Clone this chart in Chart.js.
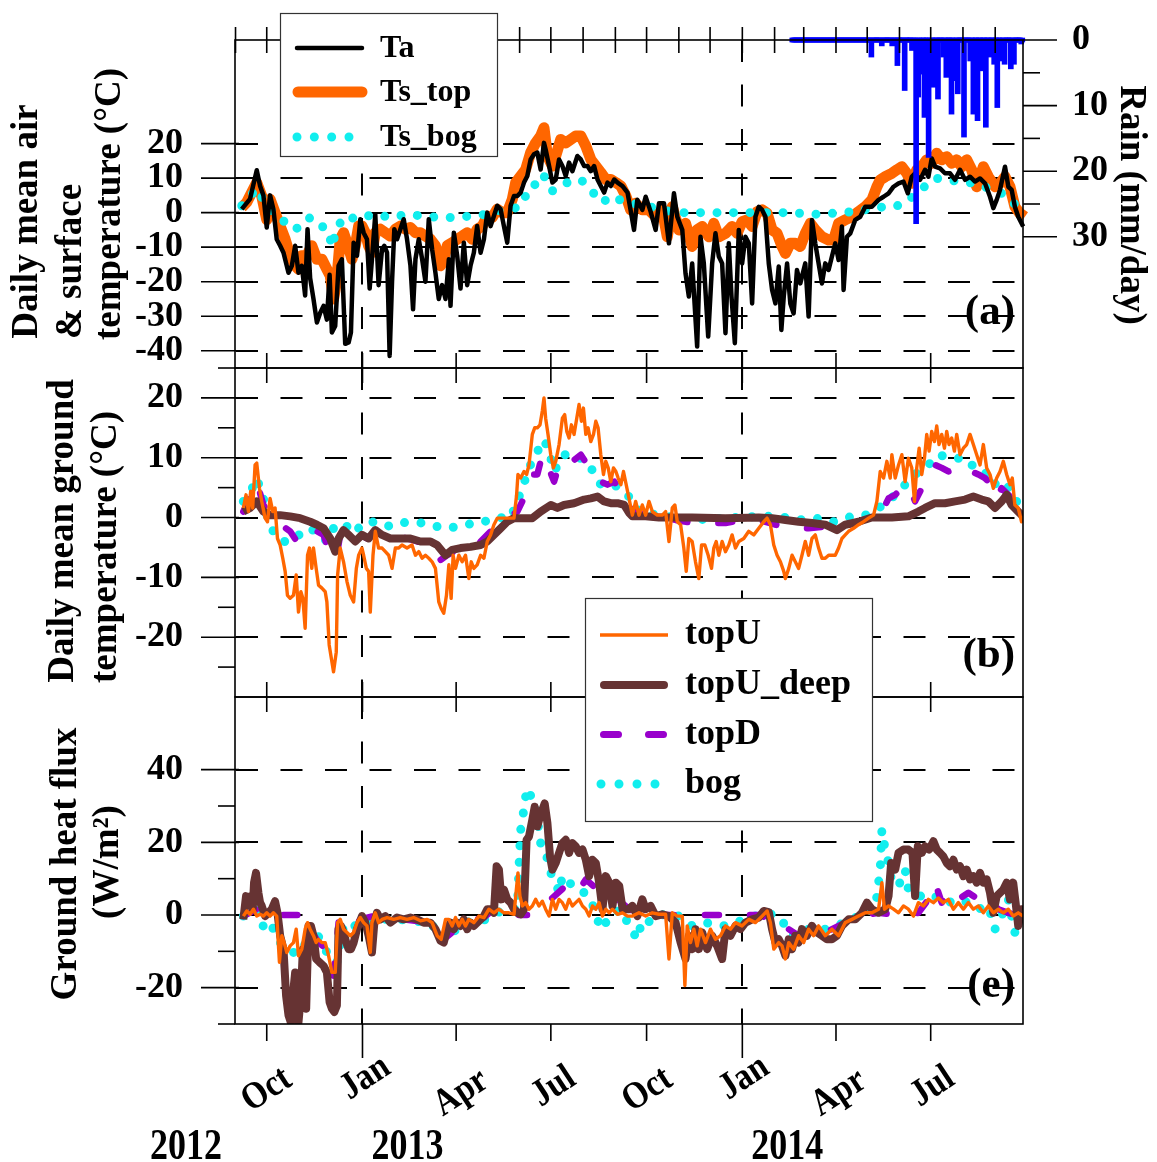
<!DOCTYPE html>
<html><head><meta charset="utf-8"><title>Temperatures and ground heat flux</title>
<script src="https://cdn.jsdelivr.net/npm/chart.js@4.4.1/dist/chart.umd.min.js"></script>
<style>
html,body{margin:0;padding:0;background:#fff;}
#wrap{position:relative;width:1157px;height:1162px;background:#fff;overflow:hidden;}
#wrap canvas{position:absolute;left:0;top:0;width:1157px;height:1162px;}
</style></head><body>
<div id="wrap"><canvas id="cA" width="1157" height="1162"></canvas><canvas id="cB" width="1157" height="1162"></canvas><canvas id="cE" width="1157" height="1162"></canvas></div>
<script>
// ---------- axis categories / ticks (x = days since 2012-01-01) ----------
const X_RANGE = [243.5, 1000.7];
const QUARTER_DATES = ['2012-10-01','2013-01-01','2013-04-01','2013-07-01','2013-10-01','2014-01-01','2014-04-01','2014-07-01'];
const QUARTER_LABELS = ['Oct','Jan','Apr','Jul','Oct','Jan','Apr','Jul'];
const YEAR_LABELS = ['2012','2013','2014'];
const YEAR_LINE_DATES = ['2013-01-01','2014-01-01'];
const TICKS_A = [20,10,0,-10,-20,-30,-40];
const TICKS_B = [20,10,0,-10,-20];
const TICKS_E = [40,20,0,-20];
const TICKS_RAIN = [0,10,20,30];

// ---------- panel (a): daily mean air & surface temperature ----------
const TA = [[250,1],[258,4],[264.4,12.3],[267.6,7.7],[270.8,5],[274,-4.3],[277.2,5],[280.4,1],[283.6,-7.7],[286.9,-9.6],[290.1,-11.6],[294.9,-17.4],[298.1,-15.4],[301.3,-9.6],[304.5,-17.4],[307.7,-15.4],[310.9,-24],[313.2,-4.8],[315.7,-19],[318.9,-25],[322.2,-31.8],[325.4,-29],[328.6,-27],[331.8,-31],[334.4,-18],[336.6,-34.7],[339.8,-32.8],[343,-15.4],[346.2,-13.5],[349.4,-38],[352.7,-37.6],[354.9,-34.7],[357.5,-8.7],[360.7,-12.5],[363.9,-1.9],[367.1,-5.8],[370.3,-7.7],[372.9,-22],[375.1,-13.5],[378.3,-0.5],[381.5,-21],[384.8,-10.6],[387,-9.6],[389.6,-11.6],[392.1,-41.5],[394.4,-20],[396.6,-4.8],[399.2,-7.7],[402.4,-4.8],[405.6,-1.9],[408.8,-7.7],[412.1,-15.4],[414.6,-28],[416.9,-13.5],[420.1,-7.7],[423.3,-13.5],[426.5,-20],[429.7,-1.9],[432.9,-10.6],[436.1,-17.4],[439.3,-25],[442.5,-21],[445.8,-25],[449,-13.5],[450.6,-27],[453.8,-5.8],[457,-12.5],[460.2,-22],[463.4,-8.7],[466.6,-21],[469.8,-15.4],[473,-11.6],[476.2,-3.9],[479.5,-11.6],[482.7,-7.7],[485.9,0],[489.1,-3.9],[492.3,-1],[495.5,2],[498.7,1],[501.9,-3.9],[505.1,-8.7],[508.3,2],[511.6,4.8],[514.8,4.8],[518,5.8],[521.2,8.7],[524.4,10.6],[527.6,15.4],[530.8,16.9],[534,17.4],[537.2,12.5],[540.4,20.2],[542,18.3],[545.3,13.5],[548.5,8.7],[551.7,9.6],[554.9,15.4],[558.1,13.5],[561.3,10.6],[564.5,14.5],[567.7,12],[572.5,16.4],[575.8,15.4],[579,13.5],[582.2,13.5],[585.4,12],[588.6,13.5],[591.8,9.6],[595,7.7],[598.2,5.8],[601.4,8.7],[604.6,7.7],[607.9,9.6],[611.1,8.7],[615.9,7.7],[620.7,5.8],[626.9,-5],[630.1,3.7],[634.9,0.8],[638.1,4.6],[642.9,0.3],[647.7,-5],[650.9,2.7],[655.7,2.7],[660.5,-8.9],[665.3,5.6],[668.5,-1.2],[673.3,-5],[676.4,-17.6],[679.6,-24.3],[682.8,-14.7],[687.6,-38.8],[690.8,-7],[694,-14.7],[698.2,-35.9],[702,-14.7],[705.2,-6],[708.4,-12.7],[711.6,-14.7],[714.8,-34.9],[718,-8.9],[720.6,-24.3],[723.8,-37.8],[727.6,-5],[730.8,-14.7],[734,-7],[737.2,-8.9],[740.4,-26.3],[743.6,-1.2],[746.8,1.7],[750,0.8],[753.2,-1.2],[756.4,-14.7],[759.6,-22.4],[762.8,-26.3],[766,-15.6],[768.5,-34],[770.8,-24.3],[774,-14.7],[777.1,-26.3],[780.3,-29.2],[783.5,-16.6],[786.7,-20.5],[791.5,-14.7],[794.7,-30.1],[797.9,-2.1],[801.1,-8.9],[804.3,-14.7],[807.5,-20.5],[810.7,-14.7],[813.9,-16.6],[817.1,-12.7],[820.3,-8.9],[823.5,-13.7],[826.7,-4],[828.3,-22.4],[831.5,-7],[834.7,-6],[839.5,-2.1],[844.3,-1.2],[849.1,1.7],[855.5,1.7],[861.9,3.7],[866.7,4.6],[871.5,5.6],[876.3,7.5],[881.1,8.5],[885.8,9],[890,5.6],[893.8,10.4],[897,11.4],[901.8,9.5],[906.6,12.4],[909.8,10.4],[913,15.7],[916.2,13.3],[921,12.8],[925.7,11.4],[930.6,11.4],[935.4,9.5],[940.2,12.4],[945,9.5],[949.8,10.4],[954.6,9],[959.4,9.9],[964.2,8.5],[969,4.6],[972.2,1.3],[975.4,3.7],[978.6,6.6],[983.4,13.3],[986.6,7.5],[989.8,6.6],[992.9,1.7],[996.1,-1.2],[1000.9,-4]];
const TS_TOP = [[250,1.5],[254.8,3],[264.4,8.7],[269.2,4.8],[274,-2],[277.2,3.9],[282,0],[286.9,-3.9],[291.7,-7.7],[296.5,-12.5],[301.3,-15.4],[304.5,-16.4],[307.7,-12.5],[312.5,-12.5],[317.3,-9.6],[322.2,-13.5],[327,-13.5],[331.8,-16.4],[335,-18.3],[338.2,-25],[341.4,-19.3],[344.6,-7.7],[347.8,-5.8],[351.1,-8.7],[355.9,-13.5],[359.1,-9.6],[362.3,-3.9],[365.5,-3.9],[368.7,-5.8],[371.9,-9.6],[375.1,-11.6],[378.3,-5.8],[383.2,-4.8],[388,-5.8],[392.8,-6.8],[397.6,-4.8],[402.4,-3.9],[407.2,-4.8],[412.1,-4.3],[416.9,-5.8],[421.7,-5.8],[426.5,-6.8],[431.3,-7.7],[436.1,-9.6],[441,-15.4],[444.1,-13.5],[447.4,-9.6],[452.2,-8.7],[457,-7.7],[461.8,-6.8],[466.6,-5.8],[471.4,-7.7],[476.2,-4.8],[481.1,-3.9],[485.9,-1],[490.7,-1.4],[495.5,1],[500.3,0],[505.1,0],[510,3.9],[513.2,8.7],[518,10.6],[522.8,12.5],[527.6,17.4],[532.4,20.2],[537.2,22.2],[540.4,24.6],[543.7,16.4],[548.5,13.5],[551.7,16.4],[556.5,21.2],[561.3,20.2],[566.1,21.2],[570.9,22.2],[575.8,22.2],[580.6,19.3],[585.4,15.4],[590.2,13.5],[595,11.6],[599.8,9.6],[604.6,9.6],[609.5,8.7],[614.3,7.7],[619.1,4.8],[623.7,0.8],[628.5,2.7],[634.9,0.8],[641.2,0.8],[647.7,-1.2],[654.1,0.8],[658.9,-7],[663.7,1.7],[670.1,-5],[676.4,-3.1],[682.8,-9.8],[687.6,-5],[692.4,-4],[698.8,-7],[703.6,-3.1],[708.4,-7],[714.8,-6],[721.2,-4],[726,-6],[730.8,-2.6],[735.6,-2.1],[740.4,-4],[745.2,0.3],[750,0.8],[754.8,-0.2],[759.6,-5],[764.4,-6],[769.2,-9.8],[772.4,-11.8],[777.1,-8.9],[781.9,-8.9],[786.7,-9.8],[791.5,-6],[796.3,-3.1],[801.1,-5],[807.5,-7],[813.9,-7.9],[818.7,-7.9],[823.5,-3.1],[829.9,-2.1],[836.3,-1.2],[842.7,0.3],[849.1,1.7],[855.5,3.7],[860.3,7.5],[863.5,9.5],[868.3,10.4],[874.7,11.4],[879.5,12.4],[884.3,13.3],[889,11.4],[893.8,8.5],[898.6,12.4],[903.4,13.3],[908.2,15.3],[913,14.3],[917.8,17.2],[922.6,15.3],[927.4,16.2],[932.2,14.3],[937,15.3],[941.8,13.3],[946.6,15.3],[951.4,12.4],[956.2,7.5],[962.6,13.3],[967.4,10.4],[973.8,7.5],[978.6,8.5],[983.4,10.4],[988.2,7.5],[992.9,1.7],[997.7,-0.2],[1002.5,-1.2]];
const TS_BOG = [[250,2],[264.4,7],[274,2],[282,-0.5],[290.1,-2.4],[298.1,-4.8],[306.1,-4.3],[315.7,-1.4],[322.2,-2.9],[333.4,-5.3],[336.6,-10],[341.4,-4.3],[349.4,-1],[360.7,-1.9],[370.3,-1],[378.3,-0.5],[392.8,-1.4],[408.8,-0.5],[424.9,-1],[439.3,-1.4],[453.8,-1.4],[469.8,-1],[484.3,-0.5],[501.9,1],[516.4,1.5],[529.2,8.2],[537.2,7.9],[540.4,10.6],[548.5,6.3],[562.9,8.7],[575.8,9.6],[596.6,2.9],[604.6,4.8],[619,3],[638,2],[657,0.5],[675,0],[707,0],[740,0],[774,0],[806,-0.5],[838,0.3],[867,1.7],[874.7,1.5],[887,2.7],[900,6],[916,10],[939,9],[955,8.5],[980,5.6],[1001,0.5]];
const RAIN_PERIOD = [779, 1000];
const RAIN = [[855,2.6],[865,0.9],[875,0.9],[880,3.9],[887,7.7],[894,1.6],[898,28],[900,8.7],[903,5.2],[906,11.8],[910,17.9],[912,1.6],[915,7.2],[919,9],[924,2.6],[927,5.7],[932,11.3],[935,6.2],[938,8.2],[944,14.8],[950,3.2],[953,11.3],[957,12.3],[961,4.7],[965,13.3],[969,2.6],[973,3.7],[976,10.3],[980,3.2],[983,3.7],[989,4.4],[992,3.7],[999,0.6]];

// ---------- panel (b): daily mean ground temperature ----------
const TOPU_T = [[251.5,1.6],[254.1,3.8],[256.4,1],[258.6,4.4],[260.5,1.6],[262.8,8.8],[264.4,9.1],[267,4.9],[269.2,2.7],[272.4,-0.1],[274.7,-0.7],[277.2,3.2],[279.8,1],[282,1.6],[284.3,-3.5],[286.9,-4.6],[289.4,-6.8],[291.7,-9],[293.9,-13],[296.5,-13.5],[299.7,-13],[302.3,-9.6],[304.5,-15.8],[306.8,-12.4],[308.7,-13.5],[310.9,-18.5],[313.2,-6.3],[315.1,-5.1],[317.3,-8.5],[318.9,-5.1],[321.5,-8.5],[323.8,-11.3],[327,-11.8],[330.2,-12.4],[331.8,-14.1],[334,-21.3],[336.6,-24.1],[338.2,-25.8],[340.8,-22.5],[342.1,-9.6],[344.6,-5.1],[347.8,-7.4],[351.1,-10.7],[354.3,-13],[357.5,-14.1],[360.1,-8.5],[362.3,-6.3],[365.5,-5.1],[367.1,-6.3],[369.7,-8.5],[371.9,-9],[373.5,-15.8],[376.1,-6.3],[378.3,-2.3],[381.5,-5.1],[384.8,-5.1],[388,-5.7],[391.2,-6.3],[394.4,-8.5],[397.6,-5.1],[400.8,-5.1],[404,-4.6],[408.8,-5.1],[413.6,-4.6],[416.9,-6.3],[420.1,-5.7],[423.3,-6.8],[426.5,-6.3],[429.7,-6.8],[432.9,-7.4],[436.1,-8.5],[439.3,-14.1],[441.6,-15.2],[444.1,-16],[446.7,-13],[449,-7.9],[451.2,-13.5],[453.1,-6.3],[455.4,-8.5],[458.6,-6.3],[461.8,-7.4],[465,-6.3],[468.2,-10.2],[470.5,-7.4],[473,-8.5],[476.2,-7.9],[479.5,-6.3],[482.7,-6.8],[485.9,-4],[489.1,-2.9],[492.3,-1.2],[495.5,-0.1],[505.1,-0.1],[511.6,-0.1],[514.1,3.8],[515.4,7.2],[518,6.6],[521.2,7.7],[523.7,7.2],[526,8.8],[529.2,13.9],[531.5,15],[534,15],[536.6,15.5],[538.8,17.8],[540.4,20],[542,16.6],[544.3,13.9],[546.9,10.5],[549.4,8.3],[551.7,9.4],[554.9,12.2],[558.1,16.6],[560.3,17.2],[562.3,14.4],[564.5,13.3],[566.8,15.5],[569.3,13.9],[571.9,16.6],[574.1,18.9],[576.4,16.1],[578.3,18.3],[580.6,13.9],[582.8,15],[585.4,12.7],[588,13.9],[590.2,16.1],[592.4,15],[595,10.5],[597.6,7.2],[599.8,9.4],[602.1,8.3],[604.6,6],[607.2,8.3],[609.5,7.7],[611.7,6.6],[614.3,5.5],[616.8,7.7],[622.1,3.2],[625.3,0.4],[628.5,2.7],[631.7,0.4],[634.9,2.1],[638.1,0.4],[641.3,2.7],[644.5,1],[649.3,0.4],[654.1,0.4],[657.3,1],[660.5,-4],[663.7,1.6],[666.2,2.1],[668.5,-0.7],[671.7,-1.2],[674.8,-5.1],[677.1,-9],[679.6,-3.5],[682.8,-4],[686,-7.4],[689.2,-10.2],[691.8,-4.6],[695,-4.6],[698.2,-6.3],[701.4,-8.5],[703.6,-5.1],[705.9,-4],[708.4,-6.3],[711.6,-4],[714.8,-5.7],[718,-4.6],[721.2,-2.9],[724.4,-5.1],[727.6,-4],[732.4,-3.5],[737.2,-2.3],[742,-2.9],[746.8,-1.8],[751.6,-0.7],[754.8,-0.1],[758,-1.2],[761.2,-4.6],[764.4,-6.3],[767.6,-7.4],[770.8,-9],[772.4,-10.2],[775.6,-8.5],[778.8,-6.3],[781.9,-7.4],[785.1,-8.5],[788.3,-6.3],[791.5,-4],[794.7,-6.3],[797.9,-3.5],[801.1,-2.9],[804.3,-5.1],[807.5,-6.8],[810.7,-6.8],[813.9,-6.3],[817.1,-6.3],[820.3,-6.3],[823.5,-5.1],[826.7,-3.5],[829.9,-2.9],[833.1,-2.3],[837.9,-1.8],[842.7,-1.2],[847.5,-0.7],[852.3,-0.1],[857.1,0.4],[860.3,2.7],[863.5,7.7],[866.7,6.6],[869.9,9.4],[873.1,6.6],[874.7,10.5],[877.9,6.6],[881.1,8.8],[884.3,10.5],[887.4,6],[890.6,9.9],[893.8,8.3],[896.4,2.7],[898.6,8.3],[900.9,11.6],[903.4,7.2],[906,9.9],[908.2,13.9],[910.5,11.1],[913,14.4],[915.6,12.7],[917.8,15.3],[920,12.2],[922.6,13.9],[925.2,11.6],[927.4,14.4],[929.6,12.2],[932.2,13.3],[934.8,11.1],[937,13.9],[940.2,10.5],[943.4,11.6],[946.6,12.2],[949.8,13.9],[953,12.2],[956.2,10.5],[959.4,8.8],[962.6,12.2],[965.8,8.3],[969,7.2],[972.2,4.9],[975.4,6.6],[978.6,7.7],[981.8,9.4],[985,7.2],[988.2,5.5],[990.4,6.6],[992.9,2.1],[996.1,1.6],[999.3,-0.7],[1002.5,0.4]];
const DEEP_T = [[251.5,1],[258,1.6],[264.4,2.7],[270.8,1],[277.2,0.4],[286.9,0.4],[296.5,0.2],[306.1,-0.1],[315.7,-0.7],[322.2,-1.2],[328.6,-1.8],[335,-3.5],[339.8,-5.7],[343,-3.5],[347.8,-2.1],[352.7,-2.9],[359.1,-4],[365.5,-2.9],[371.9,-3.5],[378.3,-2.1],[384.8,-2.9],[392.8,-3.5],[402.4,-3.5],[412.1,-3.5],[421.7,-4],[431.3,-4],[437.7,-4.6],[445.8,-6.3],[452.2,-5.4],[460.2,-5.1],[469.8,-4.9],[479.5,-4.6],[485.9,-4],[492.3,-2.9],[498.7,-1.8],[505.1,-0.7],[511.6,-0.1],[521.2,-0.1],[529.2,-0.1],[537.2,1],[546.9,2.1],[553.3,1.6],[559.7,2.1],[569.3,2.4],[579,3],[585.4,3.2],[591.8,3.5],[598.2,2.7],[604.6,2.4],[611.1,2.4],[617.5,2.1],[622.1,0.8],[625.3,0.2],[638.1,0.2],[650.9,0],[682.8,0],[714.8,-0.1],[746.8,0],[759.6,-0.1],[772.4,-0.4],[785.1,-0.7],[797.9,-0.9],[810.7,-1.2],[821.9,-2.1],[829.9,-1.2],[842.7,-0.7],[855.5,0],[874.7,0],[890.6,0.2],[900.2,1],[906.6,1.6],[916.2,2.4],[925.7,2.4],[935.4,2.7],[945,3],[953,3.5],[961,3],[967.4,2.7],[973.8,1.6],[980.2,2.7],[985,3.8],[989.8,2.1],[996.1,1],[1002.5,-0.1]];
const TOPD_T = [[251.5,1],[258,3.2],[264.4,6],[270.8,2.1],[277.2,0.4],[283.6,-0.7],[290.1,-1.5],[296.5,-2.3],[302.9,-4],[309.3,-3.5],[315.7,-1.8],[322.2,-2.3],[328.6,-2.9],[335,-6.3],[340.8,-6.8],[344.6,-2.9],[351.1,-2.3],[357.5,-4],[363.9,-2.9],[370.3,-3.5],[379.9,-2.6],[389.6,-3.2],[399.2,-3.2],[408.8,-3.5],[418.5,-4],[431.3,-4.6],[441,-7.1],[447.4,-6.3],[457,-5.4],[466.6,-5.4],[476.2,-4.6],[485.9,-2.9],[495.5,-1.2],[505.1,-0.1],[514.8,1],[519.6,2.7],[524.4,5.5],[529.2,7.2],[534,7.2],[538.8,10.5],[543.7,8.8],[550.1,6],[554.9,8.8],[561.3,9.9],[567.7,9.4],[575.8,10.5],[582.2,8.8],[588.6,8.3],[595,6],[601.4,5.5],[607.9,6],[614.3,4.4],[618.9,3.8],[625.3,1],[638.1,0.4],[650.9,0.2],[666.9,-0.4],[682.8,-0.9],[698.8,-0.9],[714.8,-0.9],[730.8,-0.4],[746.8,-0.4],[762.8,-1.2],[778.8,-1.8],[794.7,-1.8],[810.7,-1.5],[821.9,-2.3],[833.1,-1.2],[842.7,-0.7],[855.5,0.2],[865.1,1],[871.5,3.2],[877.9,3.8],[884.3,4.9],[890.6,5.5],[897,2.7],[903.4,4.9],[909.8,7.2],[916.2,8.8],[922.6,8.3],[929,7.7],[938.6,8.3],[945,7.2],[951.4,7.7],[957.8,7.2],[964.2,6.6],[970.6,5.5],[975.4,3.2],[980.2,4.9],[986.6,3.8],[992.9,2.7],[999.3,0.4],[1002.5,-0.4]];
const BOG_T = [[251.5,2.7],[258,4.1],[264.4,6.6],[270.8,3.2],[275.6,-0.7],[282,-2.9],[290.1,-4],[296.5,-4],[302.9,-3.2],[312.5,-1.8],[322.2,-2.3],[331.8,-4],[338.2,-1.8],[347.8,-0.9],[357.5,-2.6],[367.1,-0.9],[379.9,-0.7],[392.8,-1.5],[407.2,-0.8],[423.3,-0.9],[437.7,-1.5],[449,-1.8],[463.4,-1.2],[479.5,-0.9],[493.9,0],[508.3,-0.1],[519.6,4.9],[526,8.3],[532.4,10.5],[540.4,13],[545.3,11.1],[550.1,7.7],[559.7,10.5],[570.9,10.5],[583.8,8.8],[595,5.5],[607.9,5.5],[620.7,3.8],[631.7,1],[650.9,0.4],[682.8,-0.4],[714.8,-0.1],[746.8,0.2],[766,0.2],[785.1,-0.4],[801.1,-0.1],[818.7,-0.7],[836.3,0.2],[849.1,0.4],[861.9,1.6],[871.5,2.7],[881.1,4.4],[893.8,6.6],[900.2,7.7],[909.8,8.8],[919.4,10.5],[932.2,9.9],[945,9.9],[954.6,8.3],[964.2,7.7],[970.6,5.5],[983.4,6],[994.5,2.7],[1002.5,-0.1]];

// ---------- panel (e): ground heat flux ----------
const TOPU_G = [[251.5,-0.3],[254.8,1.1],[258,0.2],[261.2,1.6],[264.4,-0.3],[267.6,0.2],[270.8,-0.3],[274,0.6],[277.2,-0.3],[280.4,0.6],[283.6,-0.3],[286.2,-13],[288.5,-5.7],[290.7,-7.6],[293.3,-10.3],[296.5,-8.5],[299.7,-7.6],[302.3,-3.9],[304.5,-11.2],[307.7,-9.4],[310.9,-3.9],[313.2,-2.1],[315.7,-3.9],[318.9,-5.7],[321.5,-7.6],[323.8,-6.7],[327,-7.6],[330.2,-7.6],[333.4,-11.2],[336.6,-15.8],[339.8,-15.8],[342.1,-2.1],[344.6,-1.2],[347.8,-3.9],[351.1,-4.8],[354.3,-5.7],[357.5,-4.8],[360.7,-2.1],[363.9,-0.7],[367.1,-2.1],[370.3,-3],[373.5,-10.3],[375.1,-2.1],[378.3,0.6],[381.5,-2.1],[384.8,-1.2],[389.6,-0.7],[396,-1.2],[402.4,-0.7],[408.8,-1.2],[415.2,-0.7],[421.7,-1.6],[428.1,-1.2],[432.9,-2.1],[437.7,-5.7],[441.6,-6.7],[445.8,-1.2],[449,-1.2],[452.2,-3],[455.4,-0.7],[458.6,-3],[461.8,-1.2],[465,-3],[468.2,-1.2],[473,-2.1],[477.9,-0.3],[482.7,-0.7],[487.5,1.6],[492.3,0.6],[497.1,1.6],[501.9,0.6],[506.7,0.6],[511.6,0.2],[515.4,11.6],[517.3,5.2],[519.6,2.5],[522.8,3.4],[526,1.6],[529.2,2.5],[532.4,4.3],[535.6,2.5],[538.8,3.8],[542,1.6],[545.3,-0.3],[548.5,4.3],[551.7,1.6],[554.9,4.3],[558.1,3.4],[561.3,1.6],[564.5,4.3],[567.7,2.5],[570.9,3.4],[574.1,4.3],[577.4,2.5],[580.6,1.6],[583.8,-0.3],[587,2.5],[590.2,1.6],[593.4,3.4],[596.6,-0.3],[599.8,1.6],[603,0.6],[606.2,1.6],[611.1,0.2],[615.9,0.6],[620.7,-0.3],[625.3,-0.3],[631.7,0.6],[638.1,-0.3],[644.5,0.6],[650.9,0.2],[657.3,0.2],[660.5,-12.1],[663.7,0.6],[668.5,-0.3],[673.3,-0.3],[675.8,-19.4],[678,-3],[681.2,-7.6],[684.4,-3.9],[687.6,-8.5],[690.8,-3.9],[695.6,-7.6],[700.4,-3.9],[705.2,-6.7],[710,-5.7],[714.8,-3],[719.6,-3.9],[724.4,-2.1],[730.8,-3],[737.2,-1.2],[743.6,-2.1],[750,-0.3],[754.8,1.1],[758,-2.1],[761.2,-9.4],[766,-7.6],[769.2,-8.5],[772.4,-12.1],[775.6,-7.6],[780.3,-9.4],[785.1,-5.7],[789.9,-7.6],[794.7,-3.9],[799.5,-5.7],[804.3,-3],[810.7,-5.7],[817.1,-3.9],[823.5,-5.7],[829.9,-2.1],[836.3,-1.2],[842.7,-0.3],[849.1,0.6],[855.5,0.6],[861.9,1.6],[865.1,8.9],[867.6,1.6],[871.5,2.5],[876.3,1.6],[881.1,0.6],[885.8,2.5],[890.6,1.6],[895.4,-0.3],[900.2,3.4],[905,2.5],[909.8,4.3],[914.6,3.4],[919.4,4.7],[924.2,3.4],[929,4.3],[933.8,1.6],[938.6,3.4],[943.4,1.6],[948.2,3.4],[953,1.6],[957.8,2.5],[962.6,0.6],[967.4,2.5],[972.2,0.6],[977,1.6],[981.8,0.6],[986.6,1.6],[991.3,-0.3],[996.1,0.6],[1000.9,-0.3],[1002.5,-4.8]];
const DEEP_G = [[251.5,-1.2],[254.1,5.2],[256.4,4.3],[258.6,5.2],[260.5,1.6],[261.8,8.9],[263.7,11.6],[266,6.1],[267.6,3.4],[269.2,2.5],[272.4,-0.3],[275.6,0.6],[278.8,1.6],[282,3.8],[284.3,0.6],[286.9,-5.7],[290.1,-9.4],[292.6,-22.2],[294.9,-27.6],[297.1,-29.5],[299.1,-22.2],[301.3,-15.8],[302.9,-22.2],[304.5,-29.5],[306.8,-22.2],[308.7,-9.4],[310,-19.4],[311.9,-25.8],[314.1,-3],[316.4,-3],[318.9,-5.7],[321.5,-12.1],[324.7,-13],[328.6,-14],[331.8,-15.8],[334.4,-24],[336.6,-25.8],[338.9,-26.7],[341.4,-24.9],[343,-3.9],[345.3,-3],[347.8,-4.8],[350.4,-7.6],[352.7,-9.4],[354.9,-9.4],[357.5,-7.6],[360.7,-3.9],[363.3,-2.1],[365.5,-0.3],[368.7,-2.1],[371.9,-5.7],[375.1,-10.3],[377.4,-2.1],[379.9,0.6],[383.2,-1.2],[388,-0.3],[392.8,-2.1],[399.2,-0.7],[405.6,-1.2],[412.1,-0.7],[418.5,-1.2],[424.9,-2.1],[431.3,-2.1],[436.1,-3.9],[441,-7.1],[444.1,-7.6],[447.4,-3.9],[450.6,-2.1],[453.8,-3.9],[457,-2.1],[460.2,-3],[463.4,-1.2],[466.6,-3.9],[469.8,-2.1],[473,-3],[476.2,-2.1],[479.5,-1.2],[482.7,-0.3],[485.9,1.6],[489.1,1.6],[492.3,0.6],[494.9,13.4],[497.1,12.5],[499.4,4.3],[501.9,7],[505.1,4.3],[508.3,3.4],[511.6,1.6],[514.8,0.6],[518,0.2],[521.2,1.6],[523.7,20.7],[526,21.6],[529.2,26.2],[531.5,29.8],[534,24.4],[536.6,27.1],[538.8,28.9],[541.1,30.7],[543.7,25.3],[546.2,16.1],[548.5,12.5],[551.7,14.3],[554.9,17.1],[558.1,19.8],[561.3,20.7],[564.5,17.1],[567.7,19.8],[570.9,18.9],[574.1,17.1],[577.4,18],[580.6,15.2],[583.8,10.7],[587,15.2],[590.2,14.3],[593.4,8.9],[596.6,1.6],[599.8,10.7],[603,8.9],[606.2,2.5],[609.5,8.9],[612.7,8],[615.9,1.6],[622.1,1.6],[625.3,2.5],[630.1,-0.3],[634.9,4.3],[638.1,1.6],[642.9,2.5],[647.7,-0.3],[654.1,0.2],[660.5,-0.3],[666.9,-2.1],[671.7,-7.6],[676.4,-12.1],[679.6,-5.7],[682.8,-9.4],[686,-3.9],[689.2,-9.4],[692.4,-4.8],[697.2,-9.4],[702,-5.7],[706.8,-8.5],[711.6,-12.1],[714.8,-3.9],[719.6,-5.7],[724.4,-3],[729.2,-3.9],[734,-2.1],[740.4,-1.2],[746.8,-0.7],[751.6,1.1],[756.4,0.8],[759.6,-3.9],[762.8,-7.6],[766,-6.7],[769.2,-8.5],[772.4,-11.2],[775.6,-6.7],[778.8,-9.4],[781.9,-5.7],[785.1,-7.6],[788.3,-3.9],[793.1,-5.7],[797.9,-3],[802.7,-4.8],[807.5,-5.7],[812.3,-6.7],[817.1,-6.7],[821.9,-5.7],[826.7,-3],[833.1,-1.2],[839.5,-1.2],[845.9,0.6],[850.7,3.4],[855.5,1.6],[861.9,0.6],[868.3,1.6],[871.5,5.2],[874,14.3],[877.9,12.5],[881.1,17.1],[885.8,18],[890.6,18],[894.5,17.1],[897,5.2],[899.6,18.9],[903.4,17.1],[906.6,18.9],[910.5,18],[914.6,20.3],[917.8,18],[921,17.1],[924.2,16.1],[927.4,14.3],[930.6,13.4],[933.8,15.2],[937,12.5],[940.2,13.4],[943.4,10.7],[946.6,12.5],[949.8,9.8],[953,10.7],[956.2,8.9],[959.4,11.6],[962.6,8.9],[965.8,9.8],[969,6.1],[972.2,0.6],[975.4,5.2],[978.6,6.1],[981.8,7],[985,8.9],[988.2,4.3],[991.3,8.9],[993.6,3.4],[996.1,-3],[999.3,1.6],[1002.5,0.2]];
const TOPD_G = [[251.5,-0.3],[264.4,1.6],[270.8,1.6],[274,0],[306.1,0],[309.3,-3.9],[315.7,-3.9],[323.8,-7.6],[331.8,-9.4],[338.2,-16.7],[343,-2.1],[351.1,-5.7],[363.9,-1.2],[376.7,-0.3],[399.2,-1],[431.3,-2.1],[444.1,-6.7],[463.4,-2.1],[482.7,-0.7],[495.5,2.5],[511.6,2.5],[516,0],[527.6,0],[535,1.6],[546.9,4.3],[562.9,8.4],[572.5,6.1],[580.6,9.8],[591.8,7],[607.9,5.2],[622.3,1.6],[631.7,0],[650.9,0],[682.8,0],[714.8,0],[746.8,0],[759.6,-1.2],[769.2,-1.2],[775.6,-3.9],[785.1,-5.7],[797.9,-4.8],[810.7,-4.8],[823.5,-3],[842.7,-0.3],[861.9,0.6],[874.7,0.2],[890.6,0],[900.2,0.6],[909.8,4.3],[916.2,8.9],[922.6,3.4],[930.6,7],[938.6,4.3],[948.2,6.1],[957.8,4.3],[965.8,5.2],[977,1.6],[986.6,0.6],[996.1,-0.3],[1002.5,-0.3]];
const BOG_G = [[251.5,-0.3],[264.4,1.6],[272.4,-4.4],[278.8,-3],[286.9,-7.6],[298.1,-10.3],[307.7,-10.3],[317.3,-3],[325.4,-6.7],[335,-12.1],[341.4,-13],[347.8,-3],[354.3,-3.9],[367.1,-1.2],[399.2,-1.2],[431.3,-2.1],[444.1,-7.1],[463.4,-2.1],[485.9,-1.2],[501.9,1.6],[514.8,1.6],[516.4,13.4],[518,23.4],[520.5,28],[522.8,32.6],[526,34.9],[529.2,30.7],[532.4,29.8],[537.2,19.8],[542,18],[545.3,12.5],[548.5,10.7],[551.7,8.9],[554.9,6.1],[558.1,10.7],[562.9,8.9],[572.5,8],[579,6.1],[585.4,4.3],[595,-3.9],[604.6,-0.3],[614.3,1.6],[622.3,-3],[630.1,-6.7],[634.9,-1.2],[644.5,-2.1],[657.3,0.6],[670.1,-0.3],[682.8,-3],[695.6,-2.1],[714.8,-3],[734,-1.2],[753.2,0.6],[766,-0.3],[778.8,-5.7],[791.5,-3.9],[810.7,-3.9],[829.9,-2.1],[849.1,0.6],[858.7,1.6],[863.5,12.5],[865.1,23.4],[868.3,18],[871.5,14.3],[874.7,8.9],[881.1,8],[887.4,12.5],[890.6,7],[897,5.2],[903.4,5.2],[909.8,4.3],[919.4,5.2],[929,3.4],[938.6,4.3],[948.2,3.4],[957.8,1.6],[967.4,2.5],[973.8,-3.9],[980.2,-0.3],[986.6,4.3],[992.9,-4.8],[999.3,-5.7]];

// ---------- styling ----------
const FONT = "'Liberation Serif', 'Times New Roman', Times, serif";
const C_ORANGE = '#FF6600', C_CYAN = '#11EEEE', C_BROWN = '#663333', C_PURPLE = '#9900CC', C_BLUE = '#0000FF';
Chart.defaults.font.family = FONT;

function dayNum(y, m, d) { return (Date.UTC(y, m - 1, d) - Date.UTC(2012, 0, 1)) / 86400000; }
function dayOf(s) { const p = s.split('-').map(Number); return dayNum(p[0], p[1], p[2]); }
const xy = arr => arr.map(p => ({x: p[0], y: p[1]}));
function seg(ctx, x1, y1, x2, y2) { ctx.beginPath(); ctx.moveTo(x1, y1); ctx.lineTo(x2, y2); ctx.stroke(); }
function rtext(ctx, txt, x, y, ang, font, align) {
  ctx.save(); ctx.translate(x, y); ctx.rotate(ang); ctx.font = font; ctx.fillStyle = '#000';
  ctx.textAlign = align || 'center'; ctx.textBaseline = 'middle'; ctx.fillText(txt, 0, 0); ctx.restore();
}
function sample(ctx, st, x1, x2, y) {
  ctx.save(); ctx.strokeStyle = st.color; ctx.lineWidth = st.width; ctx.lineCap = st.cap || 'butt';
  ctx.setLineDash(st.dash || []); seg(ctx, x1, y, x2, y); ctx.restore();
}
function legendBox(ctx, x, y, w, h) {
  ctx.save(); ctx.fillStyle = '#fff'; ctx.fillRect(x, y, w, h);
  ctx.strokeStyle = '#333'; ctx.lineWidth = 1.2; ctx.strokeRect(x + 0.5, y + 0.5, w, h); ctx.restore();
}

const xAxis = {type: 'linear', min: X_RANGE[0], max: X_RANGE[1], display: false, offset: false, grid: {offset: false}};
function yAxis(min, max, ticks) {
  return {
    type: 'linear', position: 'left', min, max,
    afterBuildTicks: s => { s.ticks = ticks.map(v => ({value: v})); },
    afterFit: s => { s.width = 235; s.paddingTop = 0; s.paddingBottom = 0; },
    grid: {display: true, drawOnChartArea: false, drawTicks: true, tickLength: 34, tickColor: 'rgba(0,0,0,0)'},
    border: {display: false},
    ticks: {autoSkip: false, padding: 18, color: '#000', font: {family: FONT, size: 36, weight: 'bold'}, callback: v => String(v)}
  };
}
function baseOptions(pad, scales) {
  return {
    responsive: false, maintainAspectRatio: false, animation: false, events: [],
    layout: {padding: pad},
    plugins: {legend: {display: false}, tooltip: {enabled: false}},
    elements: {point: {radius: 0, hoverRadius: 0}, line: {tension: 0, borderJoinStyle: 'round', fill: false}},
    scales
  };
}

function decor(o) {
  return {
    id: 'decor' + o.name,
    beforeDatasetsDraw(chart) {
      const {ctx, chartArea: a} = chart, xs = chart.scales.x, ys = chart.scales.y;
      ctx.save(); ctx.strokeStyle = '#000'; ctx.lineWidth = 2; ctx.setLineDash([22, 22.5]); ctx.lineCap = 'butt';
      o.grid.forEach(v => { const p = Math.round(ys.getPixelForValue(v)); seg(ctx, a.left + 1, p, a.right, p); });
      YEAR_LINE_DATES.forEach(s => { const p = Math.round(xs.getPixelForValue(dayOf(s))); seg(ctx, p, a.top, p, a.bottom); });
      ctx.restore();
    },
    afterDatasetsDraw(chart) {
      const {ctx, chartArea: a} = chart, xs = chart.scales.x, ys = chart.scales.y;
      ctx.save(); ctx.setLineDash([]); ctx.strokeStyle = '#000'; ctx.lineWidth = 1.6; ctx.lineCap = 'butt';
      ctx.strokeRect(a.left, a.top, a.right - a.left, a.bottom - a.top);
      o.major.forEach(v => { const p = ys.getPixelForValue(v); seg(ctx, a.left - 34, p, a.left + 4, p); });
      o.minor.forEach(v => { const p = ys.getPixelForValue(v); seg(ctx, a.left - 17, p, a.left, p); });
      QUARTER_DATES.forEach(s => {
        const p = xs.getPixelForValue(dayOf(s));
        if (o.tickTop) seg(ctx, p, a.top, p, a.top + 15);
        if (o.tickBottom) seg(ctx, p, a.bottom - 15, p, a.bottom);
      });
      if (o.extra) o.extra(chart, ctx, a, xs, ys);
      ctx.restore();
    },
    afterDraw(chart) {
      const ctx = chart.ctx, a = chart.chartArea;
      o.titles.forEach(t => rtext(ctx, t[0], t[1], t[2], -Math.PI / 2, 'bold 37px ' + FONT));
      rtext(ctx, o.label, a.right - 8, o.labelY, 0, 'bold 43px ' + FONT, 'right');
      if (o.after) o.after(chart, ctx, a);
    }
  };
}

// ---------- chart (a) ----------
const rainDaily = [];
for (let d = RAIN_PERIOD[0]; d <= RAIN_PERIOD[1]; d++) {
  const f = RAIN.find(p => p[0] === d);
  rainDaily.push({x: d, y: f ? f[1] : 0});
}
const scalesA = {x: xAxis, y: yAxis(-45, 50, TICKS_A),
  yr: {type: 'linear', position: 'right', reverse: true, min: 0, max: 50,
    afterBuildTicks: s => { s.ticks = TICKS_RAIN.map(v => ({value: v})); },
    afterFit: s => { s.width = 134; s.paddingTop = 0; s.paddingBottom = 0; },
    grid: {display: true, drawOnChartArea: false, drawTicks: true, tickLength: 34, tickColor: 'rgba(0,0,0,0)'},
    border: {display: false},
    ticks: {autoSkip: false, padding: 15, color: '#000', font: {family: FONT, size: 36, weight: 'bold'}, callback: v => String(v)}}};
const styleTa = {color: '#000', width: 4.5}, styleTop = {color: C_ORANGE, width: 11}, styleBogA = {color: C_CYAN, width: 9, dash: [0, 16.5], cap: 'round'};
new Chart(document.getElementById('cA'), {
  type: 'line',
  data: {datasets: [
    {label: 'Ts_top', data: xy(TS_TOP), borderColor: styleTop.color, borderWidth: styleTop.width, order: 3, yAxisID: 'y', clip: 6},
    {label: 'Ts_bog', data: xy(TS_BOG), borderColor: styleBogA.color, borderWidth: styleBogA.width, borderDash: styleBogA.dash, borderCapStyle: 'round', order: 2, yAxisID: 'y'},
    {label: 'Ta', data: xy(TA), borderColor: styleTa.color, borderWidth: styleTa.width, order: 1, yAxisID: 'y', clip: 4},
    {type: 'bar', label: 'Rain', data: rainDaily, backgroundColor: C_BLUE, borderWidth: 0, barThickness: 5, minBarLength: 4, yAxisID: 'yr', order: 0, clip: 6}
  ]},
  options: baseOptions({top: 40, bottom: 1162 - 368, left: 0, right: 0}, scalesA),
  plugins: [decor({name: 'a', grid: TICKS_A, major: TICKS_A, minor: [], tickTop: false, tickBottom: true,
    titles: [['Daily mean air', 27, 221.5], ['& surface', 71, 261.5], ['temperature (°C)', 110, 204]],
    label: '(a)', labelY: 313,
    extra: (chart, ctx, a, xs) => {
      const yr = chart.scales.yr;
      TICKS_RAIN.forEach(v => { const p = yr.getPixelForValue(v); seg(ctx, a.right, p, a.right + 34, p); });
      [5, 15, 25].forEach(v => { const p = yr.getPixelForValue(v); seg(ctx, a.right, p, a.right + 17, p); });
      for (let y = 2012; y <= 2014; y++) for (let m = 1; m <= 12; m++) {
        const d = dayNum(y, m, 1);
        if (d < X_RANGE[0] - 1 || d > X_RANGE[1]) continue;
        const p = xs.getPixelForValue(Math.max(d, X_RANGE[0]));
        seg(ctx, p, a.top - 13, p, a.top + 13);
      }
    },
    after: (chart, ctx) => {
      rtext(ctx, 'Rain (mm/day)', 1131, 205, Math.PI / 2, 'bold 37px ' + FONT);
      legendBox(ctx, 280, 13, 217, 143);
      sample(ctx, {color: '#000', width: 4.5, cap: 'round'}, 297, 362, 48);
      sample(ctx, {color: C_ORANGE, width: 11, cap: 'round'}, 298, 362, 92);
      sample(ctx, {color: C_CYAN, width: 9, cap: 'round', dash: [0, 17.33]}, 297, 350, 137);
      const f = 'bold 32px ' + FONT;
      rtext(ctx, 'Ta', 380, 49, 0, f, 'left');
      rtext(ctx, 'Ts_top', 380, 92.5, 0, f, 'left');
      rtext(ctx, 'Ts_bog', 380, 137.5, 0, f, 'left');
    }
  })]
});

// ---------- chart (b) ----------
const styleTopU = {color: C_ORANGE, width: 3.4}, styleDeep = {color: C_BROWN, width: 8}, styleTopD = {color: C_PURPLE, width: 6.5, dash: [14, 31], cap: 'round'}, styleBog = {color: C_CYAN, width: 9, dash: [0, 16.5], cap: 'round'};
function groundSets(topU, deep, topD, bog) {
  return [
    {label: 'bog', data: xy(bog), borderColor: styleBog.color, borderWidth: styleBog.width, borderDash: styleBog.dash, borderCapStyle: 'round', order: 3},
    {label: 'topD', data: xy(topD), borderColor: styleTopD.color, borderWidth: styleTopD.width, borderDash: styleTopD.dash, borderCapStyle: 'round', order: 2},
    {label: 'topU_deep', data: xy(deep), borderColor: styleDeep.color, borderWidth: styleDeep.width, order: 1},
    {label: 'topU', data: xy(topU), borderColor: styleTopU.color, borderWidth: styleTopU.width, order: 0}
  ];
}
new Chart(document.getElementById('cB'), {
  type: 'line',
  data: {datasets: groundSets(TOPU_T, DEEP_T, TOPD_T, BOG_T)},
  options: baseOptions({top: 368, bottom: 1162 - 697, left: 0, right: 134}, {x: xAxis, y: yAxis(-30, 25, TICKS_B)}),
  plugins: [decor({name: 'b', grid: TICKS_B, major: TICKS_B, minor: [25, 15, 5, -5, -15, -25], tickTop: true, tickBottom: true,
    titles: [['Daily mean ground', 63, 531], ['temperature (°C)', 106, 547]],
    label: '(b)', labelY: 656})]
});

// ---------- chart (e) ----------
const LABEL_DX = [0, 3, 5, 3, 1, 2, 3, 2];
const LABEL_CY = [1090, 1078, 1093, 1087, 1090, 1078, 1093, 1087];
new Chart(document.getElementById('cE'), {
  type: 'line',
  data: {datasets: groundSets(TOPU_G, DEEP_G, TOPD_G, BOG_G)},
  options: baseOptions({top: 697, bottom: 1162 - 1024, left: 0, right: 134}, {x: xAxis, y: yAxis(-30, 60, TICKS_E)}),
  plugins: [decor({name: 'e', grid: TICKS_E, major: TICKS_E, minor: [30, 10, -10, -30], tickTop: true, tickBottom: false,
    titles: [['Ground heat flux', 66, 864], ['(W/m²)', 108, 862]],
    label: '(e)', labelY: 986,
    extra: (chart, ctx, a, xs) => {
      QUARTER_DATES.forEach((s, i) => {
        const p = xs.getPixelForValue(dayOf(s));
        seg(ctx, p, a.bottom, p, a.bottom + (QUARTER_LABELS[i] === 'Jan' ? 34 : 17));
      });
    },
    after: (chart, ctx, a) => {
      const xs = chart.scales.x;
      QUARTER_DATES.forEach((s, i) => {
        const p = xs.getPixelForValue(dayOf(s));
        ctx.save(); ctx.translate(p + LABEL_DX[i], LABEL_CY[i]); ctx.rotate(-0.58); ctx.scale(1, 1.15);
        ctx.font = 'bold 33px ' + FONT; ctx.fillStyle = '#000'; ctx.textAlign = 'center'; ctx.textBaseline = 'middle';
        ctx.fillText(QUARTER_LABELS[i], 0, 0); ctx.restore();
      });
      const yearX = [186, xs.getPixelForValue(dayOf('2013-01-01')) + 45, xs.getPixelForValue(dayOf('2014-01-01')) + 45];
      YEAR_LABELS.forEach((t, i) => {
        ctx.save(); ctx.translate(yearX[i], 1148); ctx.scale(1, 1.22);
        ctx.font = 'bold 36px ' + FONT; ctx.fillStyle = '#000'; ctx.textAlign = 'center'; ctx.textBaseline = 'middle';
        ctx.fillText(t, 0, 0); ctx.restore();
      });
      // legend for (b)/(e)
      legendBox(ctx, 585, 598, 287, 223);
      sample(ctx, {color: C_ORANGE, width: 3.5}, 600, 668, 635);
      sample(ctx, {color: C_BROWN, width: 8, cap: 'round'}, 604, 664, 685);
      sample(ctx, {color: C_PURPLE, width: 7, cap: 'round', dash: [15, 30]}, 603.5, 664, 734.5);
      sample(ctx, {color: C_CYAN, width: 9, cap: 'round', dash: [0, 18]}, 601, 656, 784);
      const f = 'bold 36px ' + FONT;
      rtext(ctx, 'topU', 685, 635, 0, f, 'left');
      rtext(ctx, 'topU_deep', 685, 685, 0, f, 'left');
      rtext(ctx, 'topD', 685, 735, 0, f, 'left');
      rtext(ctx, 'bog', 685, 784, 0, f, 'left');
    }
  })]
});
</script></body></html>
